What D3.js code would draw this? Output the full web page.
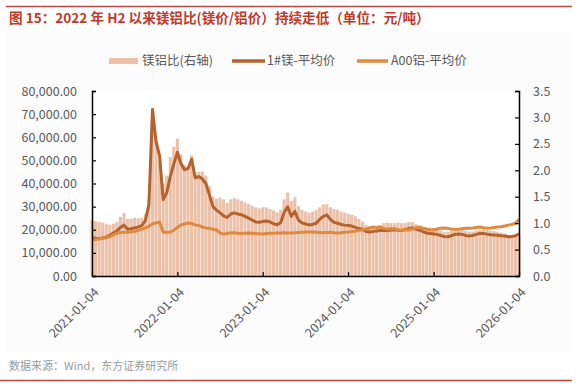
<!DOCTYPE html>
<html><head><meta charset="utf-8">
<script src="https://cdn.jsdelivr.net/npm/d3@7"></script>
<style>
html,body{margin:0;padding:0;background:#fff;}
text{font-family:"Noto Sans CJK SC","Noto Sans",sans-serif;}
</style></head>
<body><svg id="c" width="579" height="391"></svg>
<script>
const title = "图 15：2022 年 H2 以来镁铝比(镁价/铝价）持续走低（单位：元/吨）";
const source = "数据来源：Wind，东方证券研究所";
const seriesNames = ["镁铝比(右轴)", "1#镁-平均价", "A00铝-平均价"];
const xTickLabels = ["2021-01-04","2022-01-04","2023-01-04","2024-01-04","2025-01-04","2026-01-04"];
const leftTicks = [0,10000,20000,30000,40000,50000,60000,70000,80000];
const rightTicks = [0,0.5,1.0,1.5,2.0,2.5,3.0,3.5];

// half-monthly samples from 2021-01-04 to 2026-01-04
const magnesium = [16500,16300,16200,16400,16800,17500,18600,19500,21000,22000,
 20200,20400,20800,21200,21800,24000,31000,72000,58000,52000,
 33000,36000,43000,48500,53500,48500,46000,46500,50500,42500,
 43000,42000,40000,35000,30000,28500,27300,26000,25300,26800,
 27300,26800,26500,25800,25000,24200,23400,23200,23600,23800,
 23400,22600,22100,23000,27500,29900,25800,28000,24200,23000,
 22500,22100,22300,22800,24500,25800,26400,24500,23200,22800,
 22300,22000,21800,21600,21000,20500,20200,19200,19000,19300,
 19500,19700,19800,19600,19900,20000,19800,19700,20100,20500,
 20800,20300,19800,19200,18600,18400,18200,18000,17500,17100,
 17000,17400,18000,18200,18000,17500,17300,17500,18000,18400,
 18400,18100,17800,17700,17600,17400,17300,17000,17100,17400,18300];
const aluminium = [15600,15800,16000,16300,16500,17000,17800,18500,18800,18900,
 18900,19000,19300,19800,20300,20800,21500,22600,22900,23400,
 19000,18800,19000,19800,21000,22100,22500,22900,22700,22100,
 21800,21200,20800,20500,20200,19900,18500,18200,18400,18600,
 18700,18500,18400,18500,18600,18500,18400,18300,18200,18400,
 18500,18500,18600,18600,18700,18600,18600,18700,18800,18900,
 19000,19000,19000,18900,18800,18700,18800,18900,18700,18600,
 18700,18900,19000,19200,19400,19700,20000,20300,20700,21200,
 21000,21200,20600,20200,20500,20400,20000,19800,20000,19900,
 20300,20800,21200,20700,20200,20000,19900,20300,20700,20800,
 20600,20300,20100,20200,20400,20600,20700,20800,21000,21200,
 20900,20700,20800,21000,21200,21300,21600,22000,22300,22800,24500];
const ratio = [1.06,1.04,1.02,1.01,0.98,0.97,0.99,1.02,1.12,1.19,
 1.08,1.08,1.10,1.09,1.10,1.18,1.45,3.15,2.55,2.20,
 1.75,1.90,2.25,2.45,2.60,2.30,2.10,2.05,2.28,1.95,
 1.97,1.98,1.90,1.70,1.50,1.46,1.48,1.45,1.38,1.45,
 1.47,1.45,1.42,1.39,1.36,1.33,1.30,1.28,1.30,1.30,
 1.27,1.24,1.20,1.25,1.45,1.58,1.42,1.49,1.32,1.25,
 1.22,1.20,1.22,1.25,1.30,1.35,1.36,1.30,1.27,1.25,
 1.22,1.20,1.18,1.16,1.13,1.08,1.03,0.97,0.95,0.94,
 0.95,0.96,1.00,1.01,1.00,1.00,1.01,1.00,1.00,1.02,
 1.02,0.98,0.94,0.93,0.92,0.92,0.91,0.89,0.86,0.83,
 0.84,0.86,0.90,0.90,0.88,0.85,0.84,0.84,0.86,0.87,
 0.88,0.87,0.86,0.85,0.83,0.82,0.80,0.78,0.77,0.77,0.75];

const parse = d3.timeParse("%Y-%m-%d");
const start = parse(xTickLabels[0]), end = parse(xTickLabels[xTickLabels.length-1]);
const n = magnesium.length;
const dates = d3.range(n).map(i => new Date(+start + (end - start) * i / (n - 1)));

const svg = d3.select("#c");
const m = {l:92, r:519, t:91, b:276};

// frame
svg.append("rect").attr("x",6).attr("y",33).attr("width",566).attr("height",318).attr("fill","#fcfcfc");
svg.append("line").attr("x1",6).attr("x2",572).attr("y1",6.5).attr("y2",6.5).attr("stroke","#b8473f").attr("stroke-width",1.3);
svg.append("line").attr("x1",0).attr("x2",572).attr("y1",380.5).attr("y2",380.5).attr("stroke","#b8473f").attr("stroke-width",1.3);
svg.append("text").attr("x",9).attr("y",23).attr("font-size",13.6).attr("font-weight","bold").attr("fill","#c0392b").text(title);
svg.append("text").attr("x",9).attr("y",370).attr("font-size",11).attr("fill","#9a9a9a").text(source);
svg.append("rect").attr("x",m.l).attr("y",m.t).attr("width",m.r-m.l).attr("height",m.b-m.t).attr("fill","#fff");

const x = d3.scaleTime().domain([start,end]).range([m.l,m.r]);
const yL = d3.scaleLinear().domain([0,80000]).range([m.b,m.t]);
const yR = d3.scaleLinear().domain([0,3.5]).range([m.b,m.t]);

const step = (m.r - m.l) / (n - 1);
svg.append("g").selectAll("rect").data(ratio).join("rect")
  .attr("x",(d,i)=>x(dates[i]) - step*0.44)
  .attr("width",step*0.88)
  .attr("y",d=>yR(d))
  .attr("height",d=>m.b - yR(d))
  .attr("fill","#ecc1a9");

const line = yS => d3.line().x((d,i)=>x(dates[i])).y(d=>yS(d));
svg.append("path").datum(magnesium).attr("d",line(yL)).attr("fill","none").attr("stroke","#b5622c").attr("stroke-width",3).attr("stroke-linejoin","round");
svg.append("path").datum(aluminium).attr("d",line(yL)).attr("fill","none").attr("stroke","#df8a40").attr("stroke-width",3).attr("stroke-linejoin","round");

const styleAxis = g => {
  g.select(".domain").attr("stroke","#000").attr("stroke-width",1.5);
  g.selectAll(".tick line").attr("stroke","#000").attr("stroke-width",1.2);
  g.selectAll(".tick text").attr("fill","#595959").attr("font-size",12.5).attr("font-family",'"Noto Sans CJK SC","Noto Sans",sans-serif');
};
svg.append("g").attr("transform",`translate(${m.l},0)`)
  .call(d3.axisLeft(yL).tickValues(leftTicks).tickFormat(d3.format(",.2f")).tickSize(-4).tickSizeOuter(-4).tickPadding(15))
  .call(styleAxis);
svg.append("g").attr("transform",`translate(${m.r},0)`)
  .call(d3.axisRight(yR).tickValues(rightTicks).tickFormat(d3.format(".1f")).tickSize(-4).tickSizeOuter(-4).tickPadding(14))
  .call(styleAxis);
const xa = svg.append("g").attr("transform",`translate(0,${m.b})`)
  .call(d3.axisBottom(x).tickValues(xTickLabels.map(parse)).tickFormat(d3.timeFormat("%Y-%m-%d")).tickSize(-4).tickSizeOuter(0))
  .call(styleAxis);
xa.selectAll(".tick text").attr("text-anchor","end").attr("y",0).attr("dy","0.35em")
  .attr("transform","translate(4,14) rotate(-45)");

// legend
const lg = svg.append("g").attr("font-size",12.5).attr("fill","#595959");
lg.append("rect").attr("x",109).attr("y",58).attr("width",29).attr("height",6).attr("fill","#ecc1a9");
lg.append("text").attr("x",142).attr("y",61).attr("dy","0.35em").attr("fill","#595959").text(seriesNames[0]);
lg.append("line").attr("x1",232).attr("x2",265).attr("y1",61).attr("y2",61).attr("stroke","#b5622c").attr("stroke-width",3.5);
lg.append("text").attr("x",267).attr("y",61).attr("dy","0.35em").attr("fill","#595959").text(seriesNames[1]);
lg.append("line").attr("x1",357).attr("x2",388).attr("y1",61).attr("y2",61).attr("stroke","#df8a40").attr("stroke-width",3.5);
lg.append("text").attr("x",391).attr("y",61).attr("dy","0.35em").attr("fill","#595959").text(seriesNames[2]);
</script></body></html>
